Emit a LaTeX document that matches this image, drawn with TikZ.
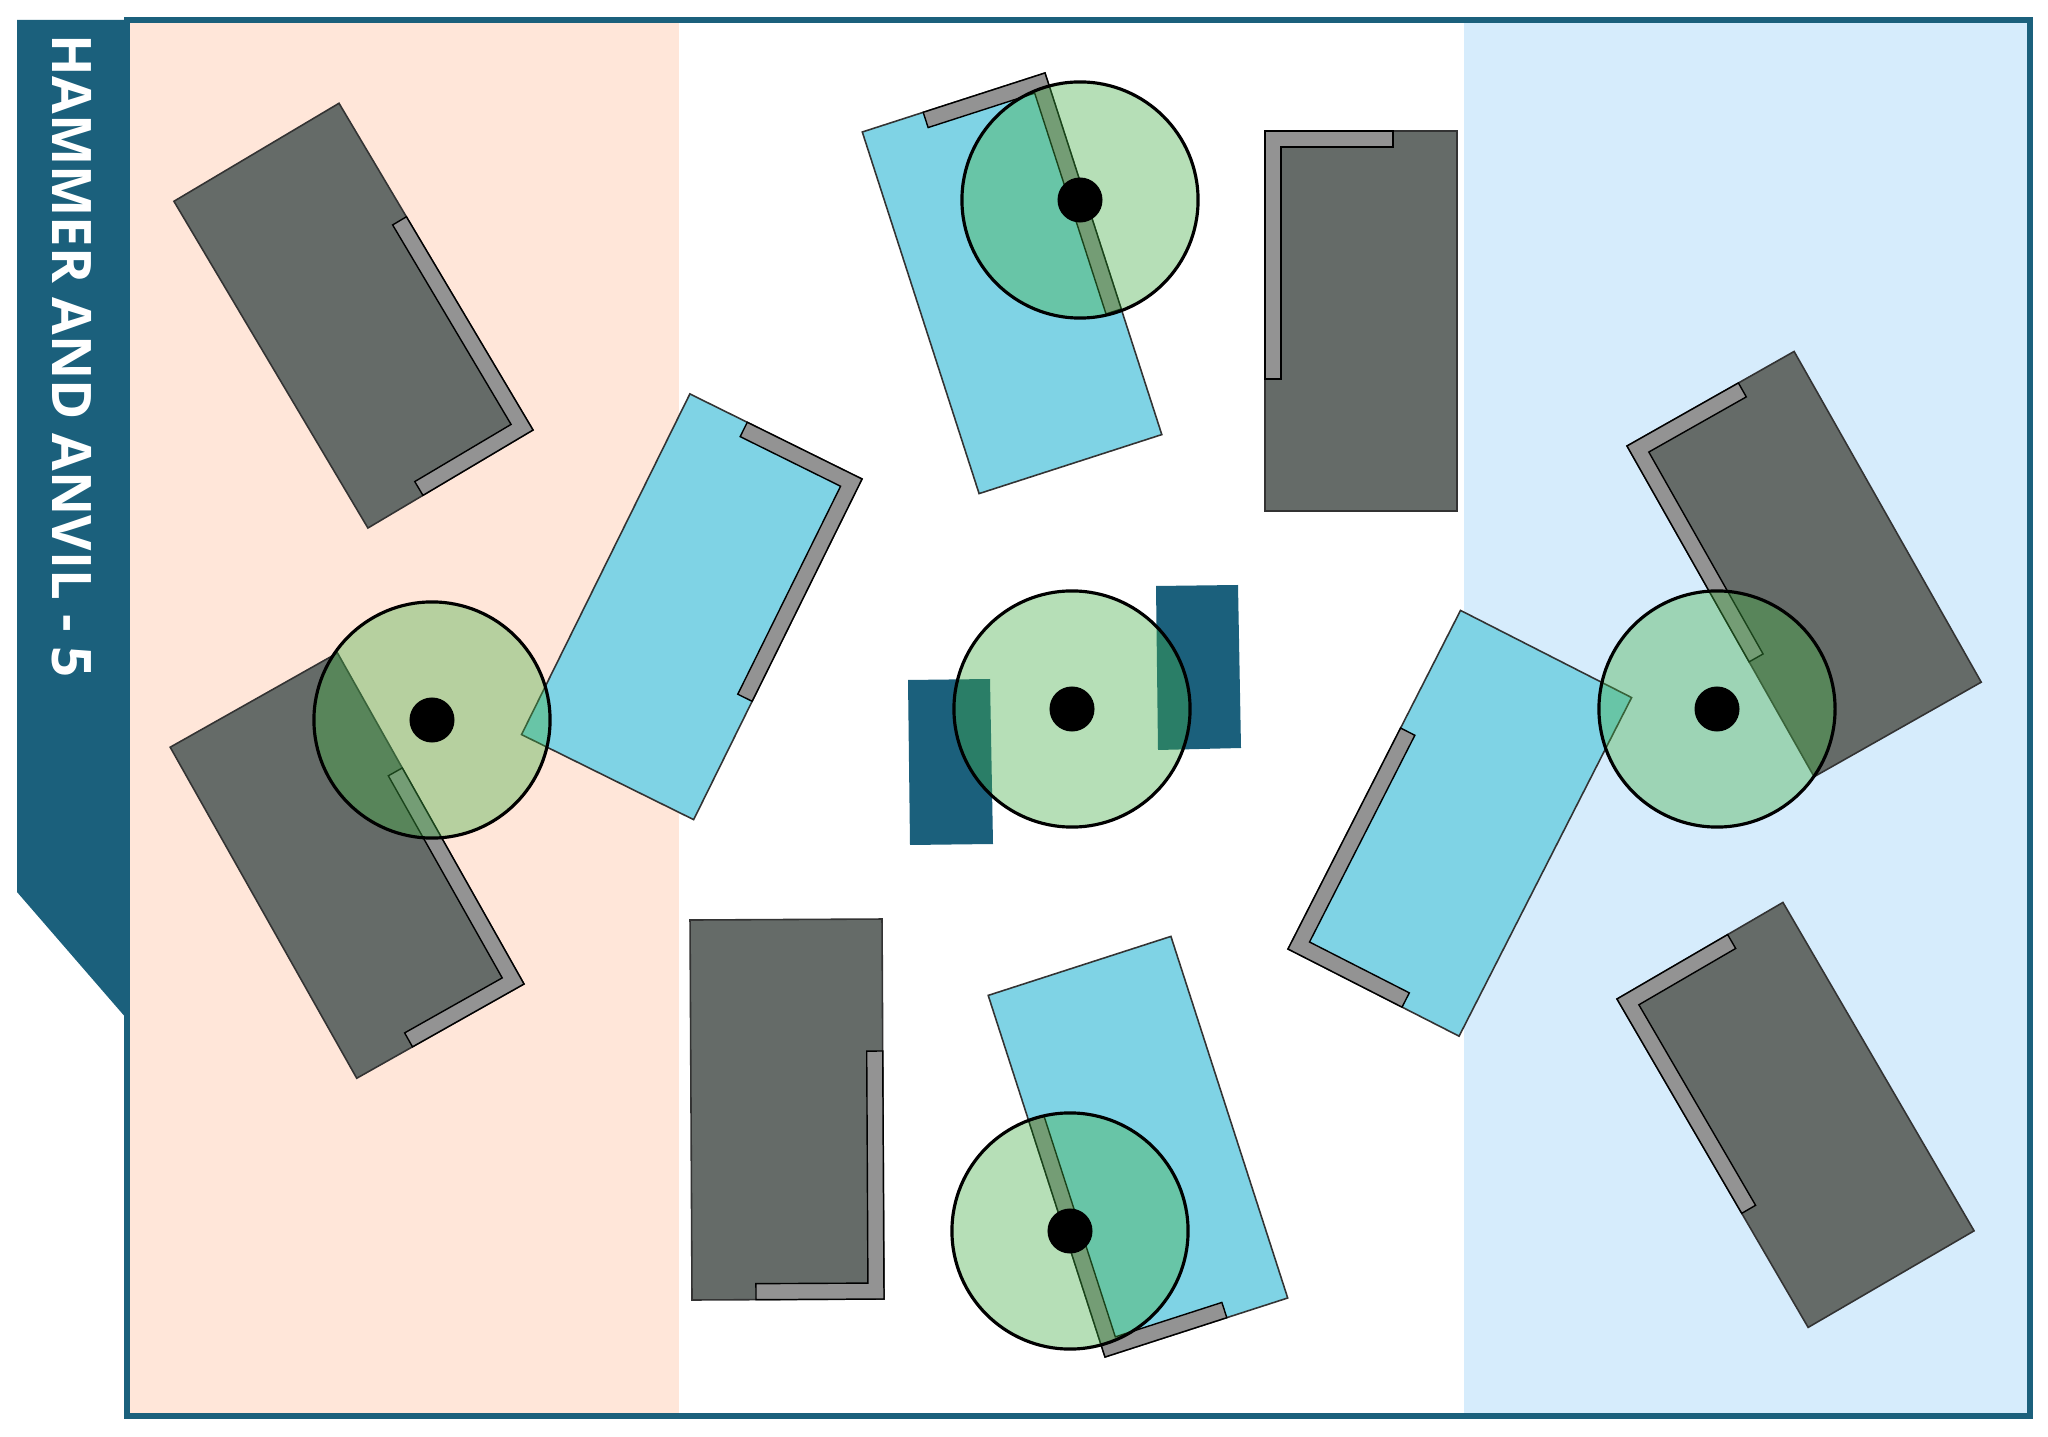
\documentclass[tikz,border=0pt]{standalone}
\usepackage{fontspec}
\newfontfamily\bannerfont{Open Sans}
\usetikzlibrary{positioning}

\definecolor{deepteal}{RGB}{27,96,124}
\definecolor{peach}{RGB}{255,230,217}
\definecolor{iceblue}{RGB}{214,236,252}
\definecolor{slate}{RGB}{101,107,104}
\definecolor{sky}{RGB}{127,211,229}
\definecolor{steel}{RGB}{147,147,147}
\definecolor{grass}{RGB}{68,175,70}

\begin{document}
\begin{tikzpicture}[
    x=0.01cm, y=-0.01cm,
    % Defining styles for the frame and the title banner
    frame/.style={
        draw=deepteal,
        line width=1.5pt
    },
    banner/.style={
        fill=deepteal
    },
    % Defining style for the players and their brackets
    block/.style={
        draw=black!80,
        line width=0.45pt
    },
    bracket/.style={
        draw=black,
        fill=steel,
        line width=0.4pt
    },
    % Defining style for the circles and their centres
    ring/.style={
        circle,
        draw=black,
        line width=0.9pt,
        fill=grass,
        fill opacity=0.39,
        minimum size=2.36cm,
        inner sep=0pt
    },
    dot/.style={
        circle,
        fill=black,
        minimum size=0.45cm,
        inner sep=0pt
    }
]

    \useasboundingbox[fill=white] (0,0) rectangle (2048,1437);

    % Zones
    \fill[peach] (127,20) rectangle (679,1416);
    \fill[iceblue] (1464,20) rectangle (2030,1416);
    \draw[frame] (127,20) rectangle (2030,1416);

    % Title banner
    \fill[banner] (17,20) -- (127,20) -- (127,1019) -- (17,892) -- cycle;
    \node[rotate=-90, text=white, inner sep=0pt,
          font=\bannerfont\bfseries\fontsize{15.5}{18}\selectfont]
        (title) at (72,356) {HAMMER AND ANVIL - 5};

    % Players: corner of the bracket, turn, side of the bracket
    \foreach \px/\py/\ang/\flip/\col in {
        533/430/-149.3/1/slate,
        524/984/-150.6/1/slate,
        884/1299/-179.7/1/slate,
        1265/131/0/1/slate,
        1627/446/29.5/1/slate,
        1617/999/30.2/1/slate,
        862/479/153.7/-1/sky,
        1045/73/-162.1/-1/sky,
        1105/1357/17.9/-1/sky,
        1288/949/-27/-1/sky} {
        \begin{scope}[shift={(\px,\py)}, rotate=\ang, yscale=\flip]
            \draw[block, fill=\col] (0,0) rectangle (192,380);
            \draw[bracket] (0,0) -- (128,0) -- (128,16) -- (16,16)
                -- (16,248) -- (0,248) -- cycle;
        \end{scope}
    }

    % Small blocks beside the centre circle
    \fill[deepteal] (908,680) -- (990,679) -- (993,844) -- (910,845) -- cycle;
    \fill[deepteal] (1156,586) -- (1238,585) -- (1241,748) -- (1158,750) -- cycle;

    % Circles with their centres
    \foreach \n/\cx/\cy in {w/432/720, n/1080/200, c/1072/709, s/1070/1231, e/1717/709} {
        \node[ring] (ring-\n) at (\cx,\cy) {};
        \node[dot] (dot-\n) at (ring-\n) {};
    }

\end{tikzpicture}
\end{document}
